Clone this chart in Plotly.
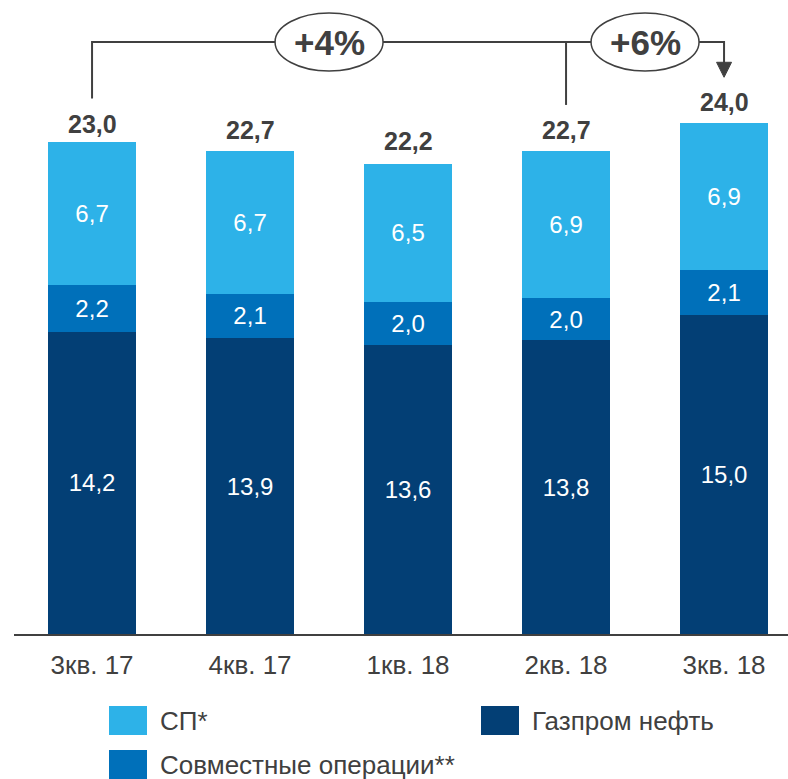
import plotly.graph_objects as go

categories = ["3кв. 17", "4кв. 17", "1кв. 18", "2кв. 18", "3кв. 18"]
gazprom_neft = [14.2, 13.9, 13.6, 13.8, 15.0]
sovm_oper = [2.2, 2.1, 2.0, 2.0, 2.1]
sp = [6.7, 6.7, 6.5, 6.9, 6.9]
totals = [23.0, 22.7, 22.2, 22.7, 24.0]
growth_labels = ["+4%", "+6%"]

C_DARK = "#033F75"
C_MID = "#0070BA"
C_LIGHT = "#2DB2E8"
TXT = "#404040"
FONT = "Arial, Liberation Sans, sans-serif"

W, H = 788, 779
PL, PR = 14, 788          # plot area in px
PT, PB = 0, 634
K = 21.28                 # px per unit
YMAX = (PB - PT) / K
xs = list(range(len(categories)))

def fmt(v):
    return f"{v:.1f}".replace(".", ",")

def ypx(py):
    return (PB - py) / K

def px2x(px):
    return -0.494 + (px - PL) / 158.0

def paper_x(px):
    return (px - PL) / (PR - PL)

def paper_y(py):
    return (PB - py) / (PB - PT)

fig = go.Figure()
for name, vals, col in [("Газпром нефть", gazprom_neft, C_DARK),
                        ("Совместные операции**", sovm_oper, C_MID),
                        ("СП*", sp, C_LIGHT)]:
    fig.add_trace(go.Bar(
        x=xs, y=vals, name=name, marker=dict(color=col, line=dict(width=0)),
        width=0.557, text=[fmt(v) for v in vals], textposition="inside",
        insidetextanchor="middle", textangle=0, constraintext="none",
        textfont=dict(color="white", size=24, family=FONT),
        showlegend=False, hoverinfo="skip"))

annotations = []
for x, t in zip(xs, totals):
    annotations.append(dict(x=x, y=t, xref="x", yref="y", text=f"<b>{fmt(t)}</b>",
                            showarrow=False, yanchor="middle", yshift=21,
                            font=dict(size=25, color=TXT, family=FONT)))

shapes = []
LW = 2
yb = ypx(42)
gap = 46 / K
# bracket lines
shapes.append(dict(type="path", xref="x", yref="y",
                   path=f"M {xs[0]},{totals[0]+gap} L {xs[0]},{yb} L {xs[4]},{yb} L {xs[4]},{ypx(63)}",
                   line=dict(color=TXT, width=LW)))
shapes.append(dict(type="line", xref="x", yref="y", x0=xs[3], x1=xs[3],
                   y0=yb, y1=totals[3] + gap, line=dict(color=TXT, width=LW)))
# arrow head
hw = 7.5 / 158.0
tip = totals[4] + gap
shapes.append(dict(type="path", xref="x", yref="y",
                   path=f"M {xs[4]-hw},{tip + 15/K} L {xs[4]+hw},{tip + 15/K} L {xs[4]},{tip} Z",
                   fillcolor=TXT, line=dict(color=TXT, width=1)))
# ellipses
rx = 54 / 158.0
ry = 29 / K
for cx, lab in zip([1.5, 3.5], growth_labels):
    shapes.append(dict(type="circle", xref="x", yref="y",
                       x0=cx - rx, x1=cx + rx, y0=yb - ry, y1=yb + ry,
                       fillcolor="white", line=dict(color=TXT, width=1.5)))
    annotations.append(dict(x=cx, y=yb, xref="x", yref="y", text=f"<b>{lab}</b>",
                            showarrow=False, yanchor="middle",
                            font=dict(size=35, color=TXT, family=FONT)))

# custom legend
legend_items = [("СП*", C_LIGHT, 109, 706), ("Газпром нефть", C_DARK, 481, 706),
                ("Совместные операции**", C_MID, 109, 750)]
for name, col, lx, ly in legend_items:
    shapes.append(dict(type="rect", xref="paper", yref="paper",
                       x0=paper_x(lx), x1=paper_x(lx + 38),
                       y0=paper_y(ly + 29), y1=paper_y(ly),
                       fillcolor=col, line=dict(width=0)))
    annotations.append(dict(x=paper_x(lx + 49), y=paper_y(ly + 15), xref="paper", yref="paper",
                            text=name, showarrow=False, xanchor="left", yanchor="middle",
                            font=dict(size=26, color=TXT, family=FONT)))

fig.update_layout(
    width=W, height=H, barmode="stack",
    margin=dict(l=PL, r=W - PR, t=PT, b=H - PB),
    plot_bgcolor="white", paper_bgcolor="white",
    shapes=shapes, annotations=annotations,
    xaxis=dict(range=[px2x(PL), px2x(PR)], tickmode="array", tickvals=xs, ticktext=categories,
               showgrid=False, zeroline=False, showline=True, linecolor=TXT, linewidth=2,
               ticks="", ticklabelstandoff=7,
               tickfont=dict(size=26, color=TXT, family=FONT), fixedrange=True),
    yaxis=dict(range=[0, YMAX], visible=False, showgrid=False, zeroline=False),
    showlegend=False,
)

fig.write_html("out.html", config={"displayModeBar": False},
               post_script="document.body.style.margin='0';document.body.style.overflow='hidden';")
